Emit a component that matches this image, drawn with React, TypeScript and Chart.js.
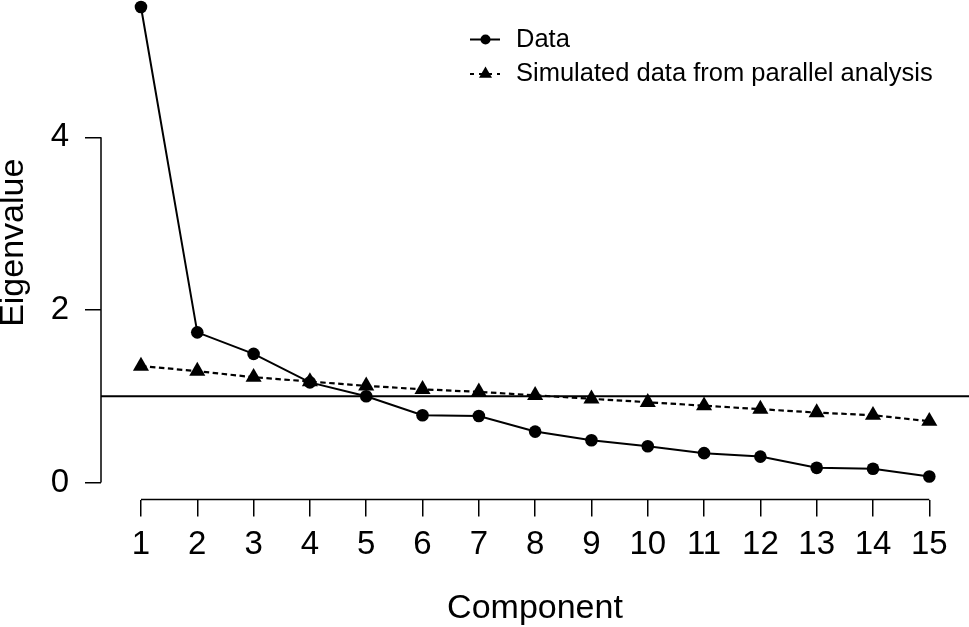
import { useEffect, useRef } from "react";
import { Chart, registerables } from "chart.js";

Chart.register(...registerables);

const components = [1, 2, 3, 4, 5, 6, 7, 8, 9, 10, 11, 12, 13, 14, 15];
const observed = [5.51, 1.74, 1.49, 1.16, 1.0, 0.78, 0.77, 0.59, 0.49, 0.42, 0.34, 0.3, 0.17, 0.16, 0.07];
const simulated = [1.35, 1.29, 1.22, 1.17, 1.12, 1.08, 1.05, 1.01, 0.97, 0.93, 0.89, 0.85, 0.81, 0.78, 0.71];
const xTickValues = components;
const yTickValues = [0, 2, 4];
const cutoff = 1;

const legendLabels = ["Data", "Simulated data from parallel analysis"];

const X_MIN = 0.29;
const X_MAX = 15.705;
const Y_MIN = -0.197;
const Y_MAX = 5.753;

const FONT = "'Liberation Sans', Arial, Helvetica, sans-serif";

// R-style axes: the axis line only runs between the first and last tick
const axisLines = {
  id: "axisLines",
  afterDraw(chart: any) {
    const { ctx, chartArea, scales } = chart;
    const { x, y } = scales;
    ctx.save();
    ctx.strokeStyle = "#000";
    ctx.lineWidth = 1.5;
    ctx.beginPath();
    ctx.moveTo(chartArea.left, y.getPixelForValue(yTickValues[0]));
    ctx.lineTo(chartArea.left, y.getPixelForValue(yTickValues[yTickValues.length - 1]));
    ctx.moveTo(x.getPixelForValue(xTickValues[0]), chartArea.bottom);
    ctx.lineTo(x.getPixelForValue(xTickValues[xTickValues.length - 1]), chartArea.bottom);
    ctx.stroke();
    ctx.restore();
  },
};

const screeLegend = {
  id: "screeLegend",
  afterDraw(chart: any) {
    const ctx = chart.ctx;
    const left = 470;
    const right = 500;
    const mid = 485.5;
    const textX = 516;
    const rows = [53.5, 88];

    ctx.save();
    ctx.strokeStyle = "#000";
    ctx.fillStyle = "#000";
    ctx.lineWidth = 2;

    // row 1: solid line + circle
    ctx.beginPath();
    ctx.moveTo(left, rows[0]);
    ctx.lineTo(right, rows[0]);
    ctx.stroke();
    ctx.beginPath();
    ctx.arc(mid, rows[0], 5, 0, Math.PI * 2);
    ctx.fill();

    // row 2: dashed line + triangle
    ctx.setLineDash([4, 5]);
    ctx.beginPath();
    ctx.moveTo(left, rows[1]);
    ctx.lineTo(right, rows[1]);
    ctx.stroke();
    ctx.setLineDash([]);
    const r = 7.5;
    ctx.beginPath();
    ctx.moveTo(mid, rows[1] - r);
    ctx.lineTo(mid + r * 0.866, rows[1] + r * 0.5);
    ctx.lineTo(mid - r * 0.866, rows[1] + r * 0.5);
    ctx.closePath();
    ctx.fill();

    ctx.font = `25.5px ${FONT}`;
    ctx.textAlign = "left";
    ctx.textBaseline = "middle";
    ctx.fillText(legendLabels[0], textX, rows[0]);
    ctx.fillText(legendLabels[1], textX, rows[1]);
    ctx.restore();
  },
};

const noPadding = (scale: any) => {
  scale.paddingTop = 0;
  scale.paddingBottom = 0;
  scale.paddingLeft = 0;
  scale.paddingRight = 0;
};

const ScreePlot = () => {
  const canvasRef = useRef<HTMLCanvasElement>(null);

  useEffect(() => {
    if (!canvasRef.current) return;
    const ctx = canvasRef.current.getContext("2d");
    if (!ctx) return;

    const chart = new Chart(ctx, {
      type: "line",
      data: {
        datasets: [
          {
            label: legendLabels[1],
            data: components.map((c, i) => ({ x: c, y: simulated[i] })),
            borderColor: "#000",
            backgroundColor: "#000",
            borderWidth: 2.2,
            borderDash: [5.5, 3.5],
            pointStyle: "triangle",
            pointRadius: 9.3,
            pointBorderWidth: 0,
            tension: 0,
            clip: false,
          },
          {
            label: legendLabels[0],
            data: components.map((c, i) => ({ x: c, y: observed[i] })),
            borderColor: "#000",
            backgroundColor: "#000",
            borderWidth: 2,
            pointStyle: "circle",
            pointRadius: 6.3,
            pointBorderWidth: 0,
            tension: 0,
            clip: false,
          },
          {
            label: "cutoff",
            data: [
              { x: X_MIN, y: cutoff },
              { x: X_MAX, y: cutoff },
            ],
            borderColor: "#000",
            borderWidth: 2,
            pointRadius: 0,
          },
        ],
      },
      options: {
        responsive: false,
        animation: false,
        events: [],
        layout: { padding: 0, autoPadding: false },
        plugins: {
          legend: { display: false },
          tooltip: { enabled: false },
        },
        scales: {
          x: {
            type: "linear",
            min: X_MIN,
            max: X_MAX,
            afterBuildTicks: (scale: any) => {
              scale.ticks = xTickValues.map((v) => ({ value: v }));
            },
            afterFit: (scale: any) => {
              scale.height = 127.5;
              noPadding(scale);
            },
            grid: {
              drawOnChartArea: false,
              drawTicks: true,
              tickLength: 17,
              color: "#000",
              lineWidth: 1.5,
            },
            border: { display: false },
            ticks: {
              color: "#000",
              font: { family: FONT, size: 33 },
              padding: 9,
              maxRotation: 0,
              autoSkip: false,
            },
            title: {
              display: true,
              text: "Component",
              color: "#000",
              font: { family: FONT, size: 34, lineHeight: 1.1 },
              padding: 0,
            },
          },
          y: {
            type: "linear",
            min: Y_MIN,
            max: Y_MAX,
            afterBuildTicks: (scale: any) => {
              scale.ticks = yTickValues.map((v) => ({ value: v }));
            },
            afterFit: (scale: any) => {
              scale.width = 101;
              noPadding(scale);
            },
            grid: {
              drawOnChartArea: false,
              drawTicks: true,
              tickLength: 16,
              color: "#000",
              lineWidth: 1.5,
            },
            border: { display: false },
            ticks: {
              color: "#000",
              font: { family: FONT, size: 33 },
              padding: 16,
              autoSkip: false,
            },
            title: {
              display: true,
              text: "Eigenvalue",
              color: "#000",
              font: { family: FONT, size: 34, lineHeight: 0.78 },
              padding: 0,
            },
          },
        },
      },
      plugins: [axisLines, screeLegend],
    });

    return () => {
      chart.destroy();
    };
  }, []);

  return (
    <div style={{ position: "absolute", left: 0, top: -14, width: 969, height: 641 }}>
      <canvas ref={canvasRef} width={969} height={641}></canvas>
    </div>
  );
};

export default function App() {
  return <ScreePlot />;
}
